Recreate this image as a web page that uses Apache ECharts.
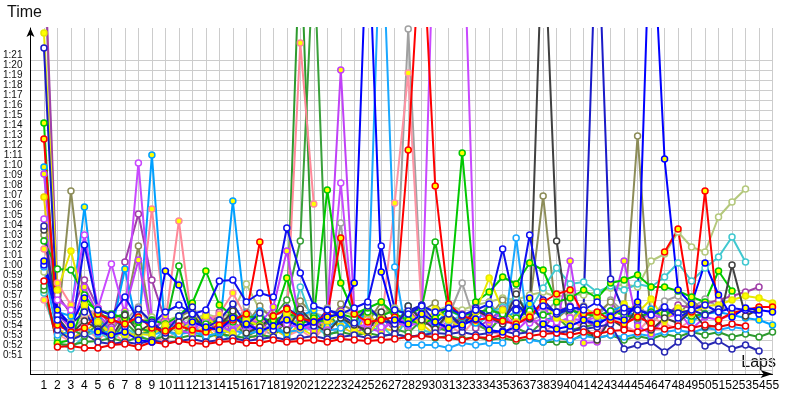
<!DOCTYPE html>
<html>
<head>
<meta charset="utf-8">
<script src="https://cdn.jsdelivr.net/npm/echarts@6/dist/echarts.min.js"></script>
<style>
html,body{margin:0;padding:0;background:#fff;}
#chart{width:800px;height:400px;}
</style>
</head>
<body>
<div id="chart"></div>
<script>
// Lap numbers (x categories)
const laps = [1,2,3,4,5,6,7,8,9,10,11,12,13,14,15,16,17,18,19,20,21,22,23,24,25,26,27,28,29,30,31,32,33,34,35,36,37,38,39,40,41,42,43,44,45,46,47,48,49,50,51,52,53,54,55];
// y grid values (seconds) and labelled values
const yGridSec = [50,51,52,53,54,55,56,57,58,59,60,61,62,63,64,65,66,67,68,69,70,71,72,73,74,75,76,77,78,79,80,81];
const yLabelSec = [51,52,53,54,55,56,57,58,59,60,61,62,63,64,65,66,67,68,69,70,71,72,73,74,75,76,77,78,79,80,81];

// Lap times in seconds, one array per driver (null = no lap)
const redY = [73.1,54.5,53.8,54.2,55.6,55.0,54.6,55.3,54.2,53.9, 54.4,54.0,53.8,54.5,55.0,55.6,62.8,55.4,56.1,55.2, 54.8,55.5,63.2,55.6,54.8,55.0,55.3,72.0,95.0,68.4, 56.6,55.4,55.0,55.2,54.9,54.6,55.3,56.8,57.6,58.0, 55.6,55.8,55.0,54.6,55.3,54.7,61.8,64.1,55.8,67.9, 55.0,55.7,56.0,56.3,56.3];
const redW = [58.9,52.3,52.4,52.2,52.2,52.5,52.6,52.3,52.8,52.6, 52.9,52.7,52.6,52.8,52.9,52.7,52.7,53.0,52.8,52.9, 53.0,52.8,53.1,53.0,52.9,53.0,53.1,53.3,53.4,53.3, 53.2,53.0,53.3,53.2,53.5,53.1,53.4,53.6,53.7,53.5, 53.8,53.6,53.9,54.0,53.8,54.2,54.1,54.4,54.2,54.5, 54.3,54.6,54.4,null,null];
const blueY = [60.9,56.0,54.5,57.2,53.8,53.5,53.8,53.0,52.8,59.9, 58.5,54.8,54.3,54.0,55.2,54.6,53.9,54.4,55.0,54.3, 54.8,55.3,55.6,58.7,96.0,59.8,55.0,54.6,55.6,54.8, 54.2,54.5,55.1,54.0,53.8,54.3,57.2,54.6,54.1,54.4, 55.0,54.6,55.3,55.0,56.8,98.0,71.1,58.0,56.6,60.7, 57.5,55.3,56.2,56.0,55.8];
const blueW = [60.5,55.0,53.5,62.5,56.0,55.5,57.3,55.0,54.6,55.8, 56.5,55.6,56.0,58.9,59.0,56.8,57.7,57.3,64.2,59.7, 56.4,56.0,55.6,56.2,56.8,62.4,56.0,55.6,56.4,55.8, 56.2,55.5,56.0,56.6,62.1,56.0,63.5,56.4,55.8,56.3, 56.0,56.8,55.4,56.2,56.0,55.5,56.3,55.2,56.0,56.5, 55.8,56.2,56.0,55.6,null];
const navyW = [64.4,54.0,53.0,53.6,52.8,52.6,52.8,52.6,53.0,52.7, 52.9,53.1,52.8,53.0,53.2,52.9,53.1,53.3,53.0,53.2, 53.4,53.1,53.3,53.5,53.2,53.4,53.6,53.3,53.5,53.7, 53.6,53.8,53.5,53.7,53.9,53.6,53.8,54.0,53.7,53.9, 54.1,54.3,54.6,52.1,52.5,52.8,51.8,52.8,53.7,52.4, 52.9,52.1,52.5,51.9,null];
const navy2 = [82.2,55.5,54.6,55.8,53.9,55.2,54.3,56.1,54.8,53.7, 55.4,56.3,54.2,55.0,56.6,54.5,55.7,54.0,56.2,55.3, 54.4,56.0,55.5,54.7,56.4,55.0,54.6,55.9,56.5,54.8, 55.6,54.3,56.2,55.4,54.9,56.7,55.2,57.0,55.6,56.1, 56.3,97.0,59.1,55.8,56.0,55.6,56.2,55.7,56.0,55.5, 56.1,null,null,null,null];
const greenY = [74.7,52.7,53.0,56.8,56.0,55.6,55.2,54.8,55.0,54.6, 55.4,56.7,59.9,56.5,55.4,54.8,54.5,55.0,59.2,54.6, 55.2,68.0,58.7,55.6,56.2,56.8,55.6,55.0,54.6,55.2, 56.2,71.7,56.8,57.8,59.3,58.6,60.7,60.0,56.8,57.2, 58.0,57.2,58.7,59.0,59.5,58.3,58.3,57.9,57.3,56.8, 59.9,57.9,null,null,null];
const greenW = [62.9,60.1,60.0,57.5,55.6,55.2,55.6,54.2,53.8,54.4, 60.4,55.0,54.6,55.0,54.8,55.4,55.2,54.9,55.6,55.3, 54.8,55.0,55.6,55.2,55.8,55.4,56.0,55.6,56.2,62.8, 56.0,55.4,55.8,56.0,55.6,55.2,55.9,55.5,55.8,56.0, 55.6,55.4,55.9,55.5,55.2,55.8,55.6,56.0,55.4,55.6, null,null,null,null,null];
const dgreenW = [58.4,52.6,52.5,52.8,52.9,53.2,52.8,53.3,53.0,53.4, 53.2,53.5,53.3,53.6,53.4,53.2,53.5,53.3,55.0,94.0, 55.4,53.6,53.8,53.5,53.7,53.4,53.6,53.3,53.5,53.2, 53.4,53.1,53.3,53.0,53.2,52.9,53.1,52.8,52.8,52.8, 53.7,53.2,53.5,53.0,53.4,53.1,53.6,53.3,53.8,53.5, 53.8,53.3,53.6,53.3,53.8];
const dgreen2 = [58.0,53.2,54.1,53.4,54.6,53.0,54.8,53.5,53.9,55.1, 53.6,54.3,55.0,53.8,54.9,53.4,54.0,55.3,57.0,62.9, 92.0,56.0,53.9,54.8,53.5,55.2,54.1,53.7,55.0,54.4, 53.8,55.3,54.6,53.9,55.5,54.2,53.6,54.9,55.4,54.0, 54.3,54.6,null,null,null,null,null,null,null,null, null,null,null,null,null];
const skyY = [70.3,55.8,55.4,66.3,55.0,53.8,60.1,53.6,71.5,53.4, 55.3,54.0,55.6,53.8,66.9,54.7,55.9,54.1,53.6,55.4, 56.0,54.3,55.1,53.9,56.2,55.0,54.5,56.4,55.2,54.6, 56.0,55.3,54.7,56.5,55.0,55.9,56.6,54.8,55.4,56.2, 55.1,54.6,55.9,56.4,55.0,56.1,55.3,55.8,54.9,55.6, 55.8,55.5,55.2,55.0,54.5];
const skyW = [60.3,53.5,53.8,54.2,53.6,53.9,53.4,53.7,53.5,53.9, 53.6,53.8,53.4,53.7,54.0,53.6,53.9,54.2,53.8,54.0, 54.3,53.9,54.2,54.6,56.0,97.0,60.3,52.5,52.5,52.5, 52.2,52.7,52.5,52.7,52.7,63.2,53.0,52.8,53.2,53.0, 53.4,53.2,53.5,53.3,53.6,53.4,53.8,54.0,53.7,54.2, 54.0,54.3,54.1,null,null];
const violetW = [65.1,57.0,56.0,63.5,56.2,60.6,55.6,70.7,55.0,54.6, 55.0,54.4,54.8,54.2,54.6,54.0,54.4,54.1,54.6,54.2, 54.5,54.0,68.7,54.2,54.6,54.3,54.7,54.4,54.8,99.0, 99.0,99.0,56.0,55.0,54.6,55.0,54.7,55.1,54.8,55.2, 54.9,55.3,55.0,55.4,55.1,55.5,55.2,55.6,null,null, null,null,null,null,null];
const violetY = [69.6,55.6,54.2,58.3,55.6,54.1,55.9,61.0,53.8,55.4, 54.0,53.6,55.7,54.3,53.9,55.1,54.6,56.3,61.9,54.5, 53.9,55.6,80.0,56.0,54.2,53.8,55.3,54.6,56.1,53.7, 55.0,54.2,56.3,54.7,55.9,53.9,55.2,56.4,54.5,60.9, 52.7,52.8,55.6,60.9,54.4,53.6,55.2,56.0,54.1,55.3, 55.0,55.6,null,null,null];
const pinkY = [62.1,58.7,56.5,55.0,56.2,55.4,55.0,54.6,66.1,54.8, 64.9,54.5,54.9,55.6,57.7,55.2,54.8,55.0,55.3,82.7, 66.6,null,null,null,null,null,null,null,null,null, null,null,null,null,null,null,null,null,null,null, null,null,null,null,null,null,null,null,null,null, null,null,null,null,null];
const pink2 = [57.0,53.6,52.8,54.3,53.1,53.9,52.7,54.5,53.3,52.9, 54.1,53.5,55.0,53.2,54.4,53.7,52.9,54.8,53.4,54.0, 53.1,54.6,53.5,55.2,53.8,54.3,66.7,79.7,55.6,53.7, 54.5,53.6,55.1,54.0,53.4,54.9,55.6,53.8,54.6,55.3, 54.0,53.5,55.0,54.4,53.8,55.3,54.6,54.1,55.0,null, null,null,null,null,null];
const grayW = [92.0,55.8,54.0,55.2,54.6,53.4,54.9,56.3,54.2,53.6, 55.1,54.0,53.7,55.6,54.3,56.4,54.1,53.5,55.7,54.9, 53.8,56.2,64.7,54.3,55.6,53.9,55.2,84.1,56.5,54.0, 55.4,58.7,54.6,56.8,55.1,57.9,54.8,55.6,56.9,55.0, 56.4,55.2,57.0,55.8,56.6,55.1,56.9,57.4,56.2,57.1, 56.3,56.0,null,null,null];
const oliveW = [63.5,54.2,67.9,56.4,55.2,53.9,55.7,62.4,54.1,53.8, 55.3,56.0,54.4,53.9,55.8,54.6,56.4,55.0,54.2,56.9, 55.5,54.3,56.6,55.9,54.7,56.8,55.2,54.0,55.9,56.7, 55.0,54.6,56.1,55.3,57.0,55.6,56.4,67.4,55.1,56.3, 54.9,55.7,56.8,55.2,73.4,54.6,56.0,55.4,57.1,55.6, null,null,null,null,null];
const dgrayW = [64.0,55.3,53.6,54.9,54.1,53.2,55.5,53.8,54.7,53.4, 54.8,55.6,53.9,54.4,55.9,53.7,54.3,55.4,54.0,56.1, 54.6,53.8,55.2,54.5,53.9,55.8,54.2,56.4,55.0,54.1, 55.7,54.4,56.0,55.3,54.6,57.6,55.1,96.0,62.9,53.7, 54.4,53.0,55.1,54.2,56.3,54.0,55.2,54.7,56.0,54.3, 54.4,60.5,55.4,56.1,null];
const lolive = [59.8,55.6,54.8,55.4,55.0,54.6,55.2,54.8,55.3,54.9, 55.4,55.0,55.6,55.2,55.8,58.6,56.0,55.5,55.8,55.3, 55.7,55.3,55.9,55.5,56.0,55.6,56.2,55.8,56.3,55.9, 56.4,56.0,56.5,56.8,57.2,57.0,57.5,57.8,57.3,57.6, 57.5,57.8,58.2,58.6,58.3,60.9,61.6,63.8,62.3,61.8, 65.3,66.8,68.1,null,null];
const cyanW = [57.7,52.8,52.1,53.4,53.9,52.9,54.2,53.5,52.8,54.0, 53.3,54.6,53.1,53.8,52.9,54.3,53.6,54.8,53.2,58.3, 54.5,53.4,54.1,55.0,53.7,54.4,53.2,55.3,54.0,53.6, 54.8,55.5,54.2,55.7,56.3,57.2,56.0,58.2,60.2,58.6, 58.8,57.8,58.4,58.0,58.6,58.3,59.3,60.7,58.9,60.2, 61.3,63.3,60.8,null,null];
const purpleW = [93.0,57.5,55.6,59.0,56.2,54.3,60.8,65.6,59.0,54.9, 53.8,55.3,54.0,55.8,53.6,54.9,53.9,55.4,54.2,56.0, 53.7,54.8,55.9,53.6,54.5,55.3,53.9,56.2,54.4,55.1, 53.8,55.6,54.2,55.0,56.1,54.6,55.3,54.1,55.8,56.4, 55.0,54.3,55.7,56.1,54.8,55.9,55.3,56.5,56.2,56.6, 57.0,57.4,57.8,58.3,null];
const yellowY = [83.7,58.0,61.9,56.5,54.8,53.7,53.5,53.6,53.5,54.5, 53.9,54.8,55.4,54.1,53.6,55.0,54.4,53.8,55.6,54.2, 53.4,54.9,55.7,54.0,53.5,55.2,54.6,55.9,54.3,56.1, 55.0,54.2,55.8,59.2,56.0,54.8,55.5,56.8,55.2,54.6, 56.3,55.4,54.9,56.6,55.7,57.1,55.0,56.2,55.6,56.4, 56.5,57.0,57.4,57.2,56.7];
const gold = [67.3,54.2,53.1,53.8,54.9,53.4,54.0,53.2,54.6,53.7, 55.2,53.6,54.3,53.0,54.8,53.9,55.5,54.1,53.3,54.7, 53.8,55.1,54.4,53.6,55.7,54.2,53.9,55.0,54.6,53.5, null,null,null,null,null,null,null,null,null,null, null,null,null,null,null,null,null,null,null,null, null,null,null,null,null];

// drawing order, colour and marker fill per driver
const drivers = [
  ['grayW', grayW, '#a0a0a0', '#ffffff'],
  ['lolive', lolive, '#b4c87c', '#ffffff'],
  ['oliveW', oliveW, '#8c8c58', '#ffffff'],
  ['pink2', pink2, '#ff94a4', '#ffff00'],
  ['gold', gold, '#f0d000', '#ffff00'],
  ['cyanW', cyanW, '#40c8d0', '#ffffff'],
  ['dgreen2', dgreen2, '#3aa03a', '#ffffff'],
  ['dgreenW', dgreenW, '#2e9a2e', '#ffffff'],
  ['purpleW', purpleW, '#a040a8', '#ffffff'],
  ['pinkY', pinkY, '#ff8898', '#ffff00'],
  ['skyW', skyW, '#1aa8ff', '#ffffff'],
  ['skyY', skyY, '#00a0ff', '#ffff00'],
  ['violetY', violetY, '#c040f8', '#ffff00'],
  ['violetW', violetW, '#c848ff', '#ffffff'],
  ['greenW', greenW, '#10b810', '#ffffff'],
  ['greenY', greenY, '#00c800', '#ffff00'],
  ['yellowY', yellowY, '#e8e800', '#ffff00'],
  ['dgrayW', dgrayW, '#404040', '#ffffff'],
  ['navyW', navyW, '#2828b4', '#ffffff'],
  ['navy2', navy2, '#1a1ac8', '#ffffff'],
  ['redW', redW, '#f00000', '#ffffff'],
  ['redY', redY, '#ff0000', '#ffff00'],
  ['blueW', blueW, '#1010f0', '#ffffff'],
  ['blueY', blueY, '#0000ff', '#ffff00']
];

function fmt(v){
  const m = Math.floor(v/60), s = Math.round(v - m*60);
  return m + ':' + (s < 10 ? '0' + s : s);
}

const series = drivers.map(d => ({
  name: d[0],
  type: 'line',
  data: laps.map((l, i) => [l, d[1][i]]).filter(p => p[1] != null),
  symbol: 'circle',
  symbolSize: 6,
  showSymbol: true,
  clip: true,
  lineStyle: {color: d[2], width: 2},
  itemStyle: {color: d[3], borderColor: d[2], borderWidth: 1.5},
  emphasis: {disabled: true}
}));

const chart = echarts.init(document.getElementById('chart'), null, {renderer: 'canvas'});
chart.setOption({
  animation: false,
  backgroundColor: '#ffffff',
  grid: {left: 30, right: 27.5, top: 28, bottom: 26, containLabel: false},
  xAxis: {
    type: 'value', min: 0, max: 55,
    axisLine: {show: true, lineStyle: {color: '#000', width: 1}, symbol: ['none', 'arrow'], symbolSize: [6, 12]},
    axisTick: {show: false, customValues: laps},
    splitLine: {show: true, lineStyle: {color: '#cccccc', width: 1}},
    axisLabel: {customValues: laps, fontSize: 12, fontFamily: 'Liberation Sans', color: '#000', margin: 6, formatter: v => String(v)}
  },
  yAxis: {
    type: 'value', min: 49.6, max: 84.2,
    axisLine: {show: true, lineStyle: {color: '#000', width: 1}, symbol: ['none', 'arrow'], symbolSize: [6, 9]},
    axisTick: {show: false, customValues: yGridSec},
    splitLine: {show: true, lineStyle: {color: '#cccccc', width: 1}},
    axisLabel: {customValues: yLabelSec, fontSize: 10, fontFamily: 'Liberation Sans', color: '#111', margin: 8,
      verticalAlign: 'bottom', lineHeight: 10, formatter: v => fmt(v)}
  },
  graphic: [
    {type: 'text', left: 7, top: 5, style: {text: 'Time', font: '16px "Liberation Sans"', fill: '#111'}},
    {type: 'text', right: 24, top: 355, style: {text: 'Laps', font: '16px "Liberation Sans"', fill: '#111'}}
  ],
  series: series
});
</script>
</body>
</html>
